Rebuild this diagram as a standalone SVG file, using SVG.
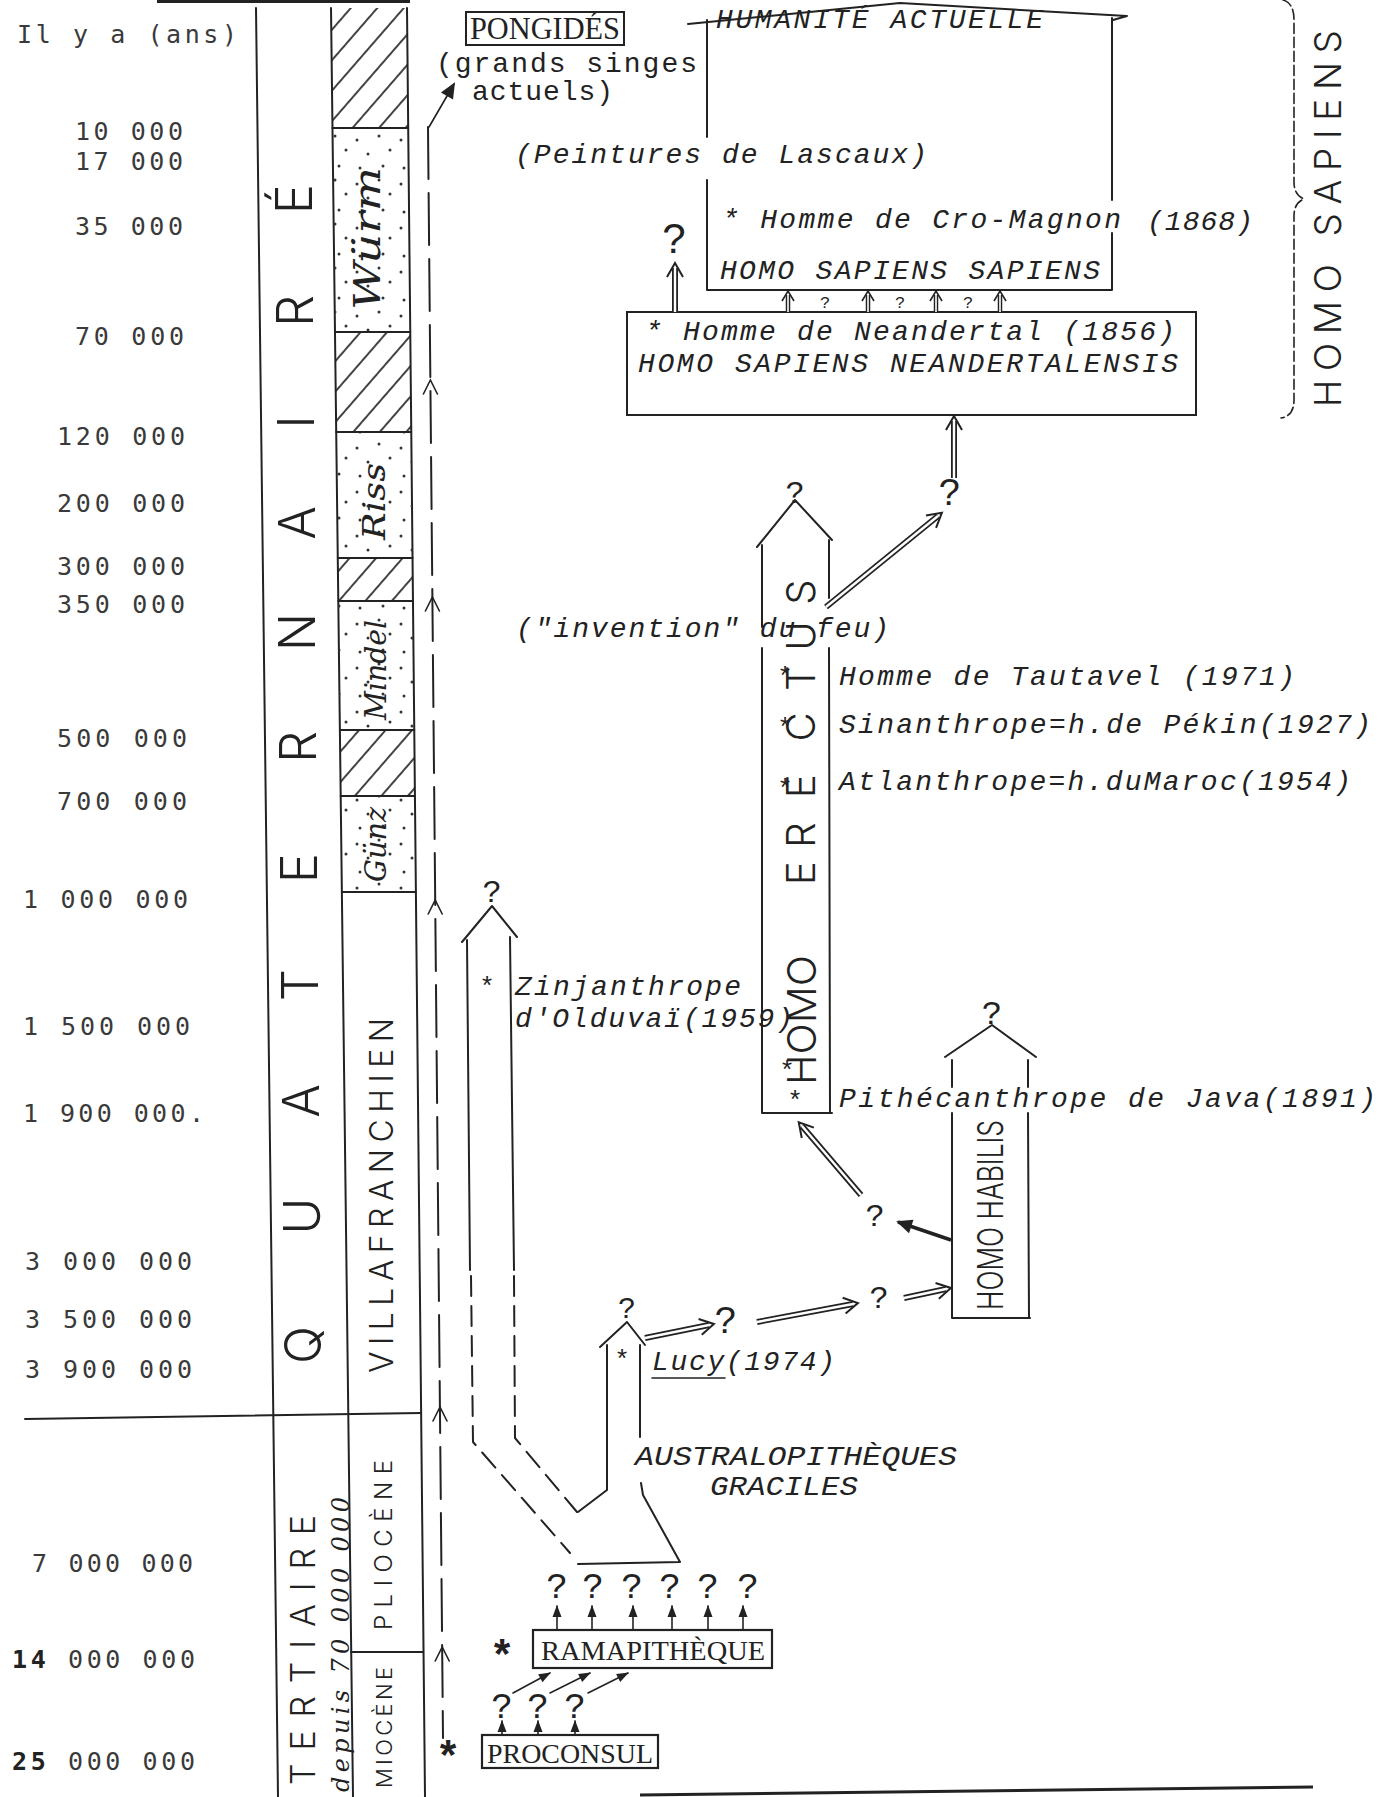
<svg xmlns="http://www.w3.org/2000/svg" width="1396" height="1797" viewBox="0 0 1396 1797">
<defs>
<pattern id="hatch" patternUnits="userSpaceOnUse" width="20" height="20" patternTransform="rotate(41)"><line x1="10" y1="-2" x2="10" y2="22" stroke="#222" stroke-width="1.7"/></pattern>
<pattern id="dots" patternUnits="userSpaceOnUse" width="44" height="44"><g fill="#333"><circle cx="5" cy="8" r="1.5"/><circle cx="27" cy="4" r="1.5"/><circle cx="16" cy="22" r="1.5"/><circle cx="38" cy="18" r="1.5"/><circle cx="8" cy="36" r="1.5"/><circle cx="31" cy="34" r="1.5"/></g></pattern>
<marker id="ahf" markerUnits="userSpaceOnUse" orient="auto" overflow="visible" markerWidth="1" markerHeight="1"><path d="M-11,-4.5 L1,0 L-11,4.5 Z" fill="#222"/></marker>
<marker id="ahb" markerUnits="userSpaceOnUse" orient="auto" overflow="visible" markerWidth="1" markerHeight="1"><path d="M-14,-7 L2,0 L-14,7 Z" fill="#222"/></marker>
<marker id="hd" markerUnits="userSpaceOnUse" orient="auto" overflow="visible" markerWidth="1" markerHeight="1"><path d="M-9,-8 L5,0 L-9,8" fill="none" stroke="#222" stroke-width="2"/></marker>
<marker id="hd2" markerUnits="userSpaceOnUse" orient="auto" overflow="visible" markerWidth="1" markerHeight="1"><path d="M-6,-6 L4,0 L-6,6" fill="none" stroke="#222" stroke-width="1.6"/></marker>
</defs>
<style>
.ln{stroke:#222;stroke-width:2;fill:none;stroke-linecap:round;stroke-linejoin:round}
.th{stroke:#222;stroke-width:1.6;fill:none;stroke-linecap:round}
.dsh{stroke-dasharray:52 14}
.dsh2{stroke-dasharray:20 10}
.dbo{stroke:#222;stroke-width:6;fill:none}
.dbi{stroke:#fff;stroke-width:2.4;fill:none;marker-end:url(#hd)}
.dbo2{stroke:#222;stroke-width:4.5;fill:none}
.dbi2{stroke:#fff;stroke-width:1.6;fill:none;marker-end:url(#hd2)}
.lab{font-family:'DejaVu Sans Mono',monospace;font-size:25px;fill:#3a3a3a}
.tw{font-family:'Liberation Mono',monospace;font-style:italic;font-size:28px;fill:#222}
.twu{font-family:'Liberation Mono',monospace;font-size:28px;fill:#222}
.sf{font-family:'Liberation Serif',serif;fill:#222}
.hand{font-family:Inter,'DejaVu Sans',sans-serif;font-weight:300;fill:#222}
.cur{font-family:'DejaVu Serif',serif;font-style:italic;fill:#222}
.qm{font-family:'Liberation Mono',monospace;fill:#222;text-anchor:middle}
.ast{font-family:'Liberation Mono',monospace;font-size:26px;fill:#222;text-anchor:middle}
.bast{font-family:'Liberation Mono',monospace;font-size:42px;font-weight:bold;fill:#222;text-anchor:middle}
</style>
<rect width="1396" height="1797" fill="#fff"/>

<g id="time-scale">
<line x1="157" y1="1" x2="410" y2="1" stroke="#222" stroke-width="4"/>
<text class="lab" x="17" y="43" textLength="220" lengthAdjust="spacing">Il y a (ans)</text>
<text class="lab" x="75" y="140" textLength="108" lengthAdjust="spacing">10 000</text>
<text class="lab" x="75" y="170" textLength="108" lengthAdjust="spacing">17 000</text>
<text class="lab" x="75" y="235" textLength="108" lengthAdjust="spacing">35 000</text>
<text class="lab" x="75" y="345" textLength="109" lengthAdjust="spacing">70 000</text>
<text class="lab" x="57" y="445" textLength="128" lengthAdjust="spacing">120 000</text>
<text class="lab" x="57" y="512" textLength="128" lengthAdjust="spacing">200 000</text>
<text class="lab" x="57" y="575" textLength="128" lengthAdjust="spacing">300 000</text>
<text class="lab" x="57" y="613" textLength="128" lengthAdjust="spacing">350 000</text>
<text class="lab" x="57" y="747" textLength="130" lengthAdjust="spacing">500 000</text>
<text class="lab" x="57" y="810" textLength="130" lengthAdjust="spacing">700 000</text>
<text class="lab" x="23" y="908" textLength="165" lengthAdjust="spacing">1 000 000</text>
<text class="lab" x="23" y="1035" textLength="167" lengthAdjust="spacing">1 500 000</text>
<text class="lab" x="23" y="1122" textLength="181" lengthAdjust="spacing">1 900 000.</text>
<text class="lab" x="25" y="1270" textLength="167" lengthAdjust="spacing">3 000 000</text>
<text class="lab" x="25" y="1328" textLength="167" lengthAdjust="spacing">3 500 000</text>
<text class="lab" x="25" y="1378" textLength="167" lengthAdjust="spacing">3 900 000</text>
<text class="lab" x="32" y="1572" textLength="161" lengthAdjust="spacing">7 000 000</text>
<text class="lab" x="12" y="1668" textLength="183" lengthAdjust="spacing"><tspan font-weight="bold" fill="#222">14</tspan> 000 000</text>
<text class="lab" x="12" y="1770" textLength="183" lengthAdjust="spacing"><tspan font-weight="bold" fill="#222">25</tspan> 000 000</text>
</g>

<g id="columns">
<line class="ln" x1="256" y1="8" x2="278" y2="1797"/>
<line class="ln" x1="331" y1="8" x2="353" y2="1797"/>
<line class="ln" x1="407" y1="8" x2="425" y2="1797"/>
<line class="ln" x1="25" y1="1419" x2="421" y2="1413"/>
<line class="ln" x1="351" y1="1652" x2="423" y2="1652"/>
<text class="hand" font-size="50" text-anchor="middle" transform="rotate(-90)" x="-1345 -1216 -1101 -985 -868 -747 -632 -523 -422 -311 -199" y="321 320 319 318 317 316 315.4 314.6 313.8 312.9 312">QUATERNAIRÉ</text>
<text class="hand" font-size="32" transform="rotate(-90)" x="-1373" y="393" textLength="355" lengthAdjust="spacing">VILLAFRANCHIEN</text>
<text class="hand" font-size="34" transform="rotate(-90)" x="-1785" y="315" textLength="270" lengthAdjust="spacing">TERTIAIRE</text>
<text class="cur" font-size="24" transform="rotate(-90)" x="-1792" y="349" textLength="295" lengthAdjust="spacing">depuis 70 000 000</text>
<text class="hand" font-size="24" transform="rotate(-90)" x="-1630" y="392" textLength="170" lengthAdjust="spacing">PLIOCÈNE</text>
<text class="hand" font-size="22" transform="rotate(-90)" x="-1788" y="392" textLength="121" lengthAdjust="spacing">MIOCÈNE</text>
</g>

<g id="glacial">
<polygon points="331,8 407,8 408.2,128 332.5,128" fill="url(#hatch)"/>
<polygon points="332.5,128 408.2,128 410.2,332 335,332" fill="url(#dots)"/>
<polygon points="335,332 410.2,332 411.2,432 336.2,432" fill="url(#hatch)"/>
<polygon points="336.2,432 411.2,432 412.5,558 337.8,558" fill="url(#dots)"/>
<polygon points="337.8,558 412.5,558 413,601 338.3,601" fill="url(#hatch)"/>
<polygon points="338.3,601 413,601 414.2,730 339.9,730" fill="url(#dots)"/>
<polygon points="339.9,730 414.2,730 414.9,796 340.7,796" fill="url(#hatch)"/>
<polygon points="340.7,796 414.9,796 415.8,892 341.9,892" fill="url(#dots)"/>
<g class="ln">
<line x1="332.5" y1="128" x2="408.2" y2="128"/>
<line x1="335" y1="332" x2="410.2" y2="332"/>
<line x1="336.2" y1="432" x2="411.2" y2="432"/>
<line x1="337.8" y1="558" x2="412.5" y2="558"/>
<line x1="338.3" y1="601" x2="413" y2="601"/>
<line x1="339.9" y1="730" x2="414.2" y2="730"/>
<line x1="340.7" y1="796" x2="414.9" y2="796"/>
<line x1="341.9" y1="892" x2="415.8" y2="892"/>
</g>
<text class="cur" font-size="38" transform="rotate(-90)" x="-310" y="380" textLength="143" lengthAdjust="spacingAndGlyphs">Würm</text>
<text class="cur" font-size="32" transform="rotate(-90)" x="-540" y="385" textLength="77" lengthAdjust="spacingAndGlyphs">Riss</text>
<text class="cur" font-size="30" transform="rotate(-90)" x="-720" y="386" textLength="100" lengthAdjust="spacingAndGlyphs">Mindel</text>
<text class="cur" font-size="30" transform="rotate(-90)" x="-882" y="386" textLength="75" lengthAdjust="spacingAndGlyphs">Günz</text>
</g>

<g id="n-pongides">
<rect x="466" y="12" width="158" height="33" fill="none" stroke="#222" stroke-width="2"/>
<text class="sf" font-size="31" x="470" y="39" textLength="150" lengthAdjust="spacingAndGlyphs">PONGIDÉS</text>
<text class="twu" x="436" y="72" textLength="261" lengthAdjust="spacing">(grands singes</text>
<text class="twu" x="472" y="100" textLength="141" lengthAdjust="spacing">actuels)</text>
</g>

<g id="n-hss">
<path class="ln" d="M688,24 L900,3 L1127,16 L1113,20"/>
<path class="ln" d="M707,20 L707,137 M707,180 L707,290 L1112,290 L1112,233 M1112,200 L1112,18"/>
<text class="tw" x="716" y="28" textLength="327" lengthAdjust="spacing">HUMANITÉ ACTUELLE</text>
<text class="tw" x="515" y="163" textLength="412" lengthAdjust="spacing">(Peintures de Lascaux)</text>
<text class="tw" x="722" y="228" textLength="399" lengthAdjust="spacing">* Homme de Cro-Magnon</text>
<text class="tw" x="1147" y="230" textLength="106" lengthAdjust="spacing">(1868)</text>
<text class="tw" x="720" y="279" textLength="380" lengthAdjust="spacing">HOMO SAPIENS SAPIENS</text>
</g>

<g id="n-neandertal">
<rect x="627" y="312" width="569" height="103" fill="none" stroke="#222" stroke-width="2"/>
<text class="tw" x="645" y="340" textLength="530" lengthAdjust="spacing">* Homme de Neandertal (1856)</text>
<text class="tw" x="638" y="372" textLength="540" lengthAdjust="spacing">HOMO SAPIENS NEANDERTALENSIS</text>
</g>

<g id="n-sapiens-brace">
<path class="th" stroke-dasharray="10 4" d="M1283,0 Q1294,3 1294,20 L1294,182 Q1294,195 1304,199 Q1294,203 1294,216 L1294,400 Q1294,416 1281,418"/>
<text class="hand" font-size="37" transform="rotate(-90)" x="-407" y="1341" textLength="377" lengthAdjust="spacing">HOMO SAPIENS</text>
</g>

<g id="n-erectus">
<path class="ln" d="M757,547 L795,500 L832,540"/>
<path class="ln" d="M762,545 L762,627 M762,648 L762,1113 L832,1113 M829,540 L829,598 M829,648 L830,1113"/>
<text class="qm" x="795" y="503" style="font-size:32px">?</text>
<text class="hand" font-size="40" transform="rotate(-90)" x="-1085" y="816" textLength="130" lengthAdjust="spacingAndGlyphs">HOMO</text>
<text class="hand" font-size="40" text-anchor="middle" transform="rotate(-90)" x="-873 -835 -786 -727 -678 -636 -592" y="815">ERECTUS</text>
<text class="ast" x="785" y="685">*</text>
<text class="ast" x="785" y="736">*</text>
<text class="ast" x="785" y="797">*</text>
<text class="ast" x="787" y="1079">*</text>
<text class="ast" x="795" y="1109">*</text>
<text class="tw" x="516" y="637" textLength="373" lengthAdjust="spacing">("invention" du feu)</text>
<text class="tw" x="839" y="685" textLength="456" lengthAdjust="spacing">Homme de Tautavel (1971)</text>
<text class="tw" x="839" y="733" textLength="532" lengthAdjust="spacing">Sinanthrope=h.de Pékin(1927)</text>
<text class="tw" x="839" y="790" textLength="512" lengthAdjust="spacing">Atlanthrope=h.duMaroc(1954)</text>
<text class="tw" x="839" y="1107" textLength="537" lengthAdjust="spacing">Pithécanthrope de Java(1891)</text>
</g>

<g id="n-habilis">
<path class="ln" d="M945,1057 L992,1025 L1036,1057"/>
<path class="ln" d="M952,1060 L952,1087 M952,1113 L952,1318 L1030,1318 M1028,1060 L1028,1087 M1028,1113 L1029,1318"/>
<text class="qm" x="992" y="1024" style="font-size:34px">?</text>
<text class="hand" font-size="36" transform="rotate(-90)" x="-1310" y="1003" textLength="190" lengthAdjust="spacingAndGlyphs">HOMO HABILIS</text>
</g>

<g id="n-zinj">
<path class="ln" d="M462,942 L492,906 L517,937"/>
<path class="ln" d="M467,940 L470,1270 M510,937 L514,1270"/>
<path class="ln dsh2" d="M471,1276 L473,1442 L570,1553 M514,1276 L515,1438 L577,1512"/>
<text class="qm" x="492" y="902" style="font-size:32px">?</text>
<text class="ast" x="487" y="995">*</text>
<text class="tw" x="515" y="995" textLength="226" lengthAdjust="spacing">Zinjanthrope</text>
<text class="tw" x="515" y="1027" textLength="278" lengthAdjust="spacing">d'Olduvaï(1959)</text>
</g>

<g id="n-lucy">
<path class="ln" d="M600,1347 L627,1322 L645,1345"/>
<path class="ln" d="M607,1345 L607,1490 L578,1512 M640,1345 L640,1437 M641,1483 L643,1495 L680,1562 L578,1564"/>
<text class="qm" x="627" y="1318" style="font-size:30px">?</text>
<text class="ast" x="622" y="1368">*</text>
<text class="tw" x="652" y="1370" textLength="183" lengthAdjust="spacing">Lucy(1974)</text>
<line class="th" x1="652" y1="1378" x2="725" y2="1378"/>
<text class="tw" x="635" y="1465" textLength="322" lengthAdjust="spacingAndGlyphs">AUSTRALOPITHÈQUES</text>
<text class="tw" x="710" y="1495" textLength="148" lengthAdjust="spacingAndGlyphs">GRACILES</text>
</g>

<g id="n-rama">
<rect x="533" y="1630" width="239" height="38" fill="none" stroke="#222" stroke-width="2.2"/>
<text class="sf" font-size="28" x="541" y="1660" textLength="224" lengthAdjust="spacingAndGlyphs">RAMAPITHÈQUE</text>
<text class="bast" x="502" y="1670">*</text>
<g class="qm" style="font-size:36px"><text x="557" y="1598">?</text><text x="593" y="1598">?</text><text x="632" y="1598">?</text><text x="670" y="1598">?</text><text x="708" y="1598">?</text><text x="748" y="1598">?</text></g>
</g>

<g id="n-proconsul">
<rect x="482" y="1735" width="176" height="33" fill="none" stroke="#222" stroke-width="2.2"/>
<text class="sf" font-size="28" x="487" y="1763" textLength="166" lengthAdjust="spacingAndGlyphs">PROCONSUL</text>
<text class="bast" x="448" y="1771">*</text>
<g class="qm" style="font-size:36px"><text x="502" y="1718">?</text><text x="538" y="1718">?</text><text x="575" y="1718">?</text></g>
</g>

<g id="connectors">
<line class="ln dsh" x1="428" y1="127" x2="443" y2="1738"/>
<g class="th">
<path d="M423.4,394 L430.4,380 L437.4,394"/>
<path d="M425.4,611 L432.4,597 L439.4,611"/>
<path d="M428.2,914 L435.2,900 L442.2,914"/>
<path d="M433,1421 L440,1407 L447,1421"/>
<path d="M435.2,1661 L442.2,1647 L449.2,1661"/>
</g>
<line class="th" x1="429" y1="127" x2="454" y2="84" marker-end="url(#ahb)"/>
<g class="th">
<line x1="557" y1="1630" x2="557" y2="1606" marker-end="url(#ahf)"/>
<line x1="592" y1="1630" x2="592" y2="1606" marker-end="url(#ahf)"/>
<line x1="633" y1="1630" x2="633" y2="1606" marker-end="url(#ahf)"/>
<line x1="672" y1="1630" x2="672" y2="1606" marker-end="url(#ahf)"/>
<line x1="708" y1="1630" x2="708" y2="1606" marker-end="url(#ahf)"/>
<line x1="743" y1="1630" x2="743" y2="1606" marker-end="url(#ahf)"/>
<line x1="502" y1="1735" x2="502" y2="1721" marker-end="url(#ahf)"/>
<line x1="538" y1="1735" x2="538" y2="1721" marker-end="url(#ahf)"/>
<line x1="575" y1="1735" x2="575" y2="1721" marker-end="url(#ahf)"/>
<line x1="513" y1="1693" x2="550" y2="1673" marker-end="url(#ahf)"/>
<line x1="550" y1="1693" x2="590" y2="1673" marker-end="url(#ahf)"/>
<line x1="588" y1="1693" x2="628" y2="1673" marker-end="url(#ahf)"/>
</g>
<path class="dbo" d="M645,1338 L709,1325"/><path class="dbi" d="M645,1338 L709,1325"/>
<text class="qm" x="726" y="1333" style="font-size:38px">?</text>
<path class="dbo" d="M757,1322 L853,1304"/><path class="dbi" d="M757,1322 L853,1304"/>
<text class="qm" x="879" y="1308" style="font-size:32px">?</text>
<path class="dbo" d="M904,1298 L946,1289"/><path class="dbi" d="M904,1298 L946,1289"/>
<line x1="951" y1="1240" x2="898" y2="1222" stroke="#222" stroke-width="3.5" marker-end="url(#ahb)"/>
<text class="qm" x="875" y="1226" style="font-size:32px">?</text>
<path class="dbo" d="M861,1195 L802,1126"/><path class="dbi" d="M861,1195 L802,1126"/>
<path class="dbo" d="M826,607 L938,516"/><path class="dbi" d="M826,607 L938,516"/>
<text class="qm" x="950" y="505" style="font-size:38px">?</text>
<path class="dbo" d="M954,478 L954,421"/><path class="dbi" d="M954,478 L954,421"/>
<path class="dbo" d="M675,312 L675,268"/><path class="dbi" d="M675,312 L675,268"/>
<text x="674" y="253" font-family="'Liberation Sans',sans-serif" font-size="42" fill="#222" text-anchor="middle">?</text>
<path class="dbo2" d="M788,312 L788,295"/><path class="dbi2" d="M788,312 L788,295"/>
<path class="dbo2" d="M868,312 L868,295"/><path class="dbi2" d="M868,312 L868,295"/>
<path class="dbo2" d="M936,312 L936,295"/><path class="dbi2" d="M936,312 L936,295"/>
<path class="dbo2" d="M1000,312 L1000,295"/><path class="dbi2" d="M1000,312 L1000,295"/>
<g class="qm" style="font-size:17px"><text x="825" y="308">?</text><text x="900" y="308">?</text><text x="968" y="308">?</text></g>
<line x1="640" y1="1795" x2="1313" y2="1787" stroke="#222" stroke-width="3"/>
</g>
</svg>
